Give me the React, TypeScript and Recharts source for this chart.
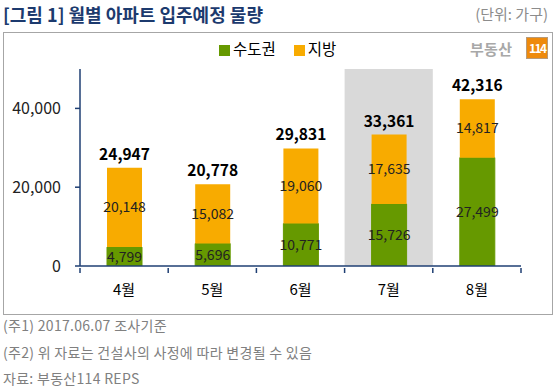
import React from 'react';
import {
    BarChart,
    Bar,
    XAxis,
    YAxis,
    Legend,
    LabelList,
    ReferenceArea
} from 'recharts';

// monthly scheduled move-in volume (households)
const months = ['4월', '5월', '6월', '7월', '8월'];
const capitalArea = [4799, 5696, 10771, 15726, 27499];
const regional = [20148, 15082, 19060, 17635, 14817];
const totals = [24947, 20778, 29831, 33361, 42316];
const yTicks = [0, 20000, 40000];
const highlightMonth = '7월';

const NAVY = '#1f3f73';
const GREEN = '#669900';
const ORANGE = '#f8ab00';
const FONT = '"Noto Sans CJK KR", "Noto Sans", sans-serif';

const data = months.map((m, i) => ({
    month: m,
    capital: capitalArea[i],
    regional: regional[i],
    total: totals[i]
}));

const fmt = (v: number) => v.toLocaleString('en-US');

const footnotes = [
    '(주1) 2017.06.07 조사기준',
    '(주2) 위 자료는 건설사의 사정에 따라 변경될 수 있음',
    '자료: 부동산114 REPS'
];

// month label + tick marks on the band edges (not the centre)
const MonthTick = (props: any) => {
    const { x, y, payload, index } = props;
    const half = payload.offset || 0;
    const last = index === months.length - 1;
    return (
        <g>
            <line x1={x - half} x2={x - half} y1={y} y2={y + 5} stroke={NAVY} strokeWidth={1.5} />
            {last && <line x1={x + half} x2={x + half} y1={y} y2={y + 5} stroke={NAVY} strokeWidth={1.5} />}
            <text x={x} y={y + 27} textAnchor="middle" fontSize={15} fill="#000">{payload.value}</text>
        </g>
    );
};

export default function App() {
    return (
        <div style={{ position: 'absolute', left: 0, top: 0, width: 555, height: 389, background: '#fff', fontFamily: FONT }}>
            {/* title row */}
            <div style={{ position: 'absolute', left: 3, top: 1, fontSize: 18, fontWeight: 700, color: '#1c3a6e', whiteSpace: 'nowrap' }}>
                [그림 1] 월별 아파트 입주예정 물량
            </div>
            <div style={{ position: 'absolute', right: 7, top: 3, fontSize: 15, color: '#8c8c8c', whiteSpace: 'nowrap' }}>
                (단위: 가구)
            </div>

            {/* frame */}
            <div style={{ position: 'absolute', left: 3, top: 32, width: 548, height: 281, border: '1px solid #a6a6a6' }} />

            {/* logo */}
            <div style={{ position: 'absolute', left: 470, top: 37, display: 'flex', alignItems: 'center', zIndex: 2 }}>
                <span style={{ fontSize: 15, fontWeight: 700, color: '#a8a8a8', letterSpacing: 0.3 }}>부동산</span>
                <span style={{
                    marginLeft: 14, width: 20, height: 20, background: '#ee8a0c', border: '1px solid #b89a78',
                    color: '#fff', fontSize: 12, fontWeight: 700, lineHeight: '20px', textAlign: 'center', letterSpacing: -1.5
                }}>114</span>
            </div>

            <div style={{ position: 'absolute', left: 0, top: 0 }}>
                <BarChart
                    width={555}
                    height={389}
                    data={data}
                    margin={{ top: 69, right: 34, bottom: 83, left: 8 }}
                >
                    <XAxis
                        dataKey="month"
                        height={40}
                        axisLine={{ stroke: NAVY, strokeWidth: 1.5 }}
                        tickLine={false}
                        tickSize={0}
                        tick={<MonthTick />}
                    />
                    <YAxis
                        width={72}
                        domain={[0, 50000]}
                        ticks={yTicks}
                        allowDataOverflow
                        axisLine={{ stroke: NAVY, strokeWidth: 1.5 }}
                        tickLine={{ stroke: NAVY, strokeWidth: 1.5 }}
                        tickSize={5}
                        tickMargin={14}
                        tick={{ fontSize: 16, fill: '#222' }}
                        tickFormatter={fmt}
                    />
                    <ReferenceArea
                        x1={highlightMonth}
                        x2={highlightMonth}
                        y1={0}
                        y2={50000}
                        fill="#d9d9d9"
                        fillOpacity={1}
                        stroke="none"
                    />
                    <Legend
                        layout="horizontal"
                        verticalAlign="middle"
                        iconType="square"
                        iconSize={11}
                        wrapperStyle={{ top: 39, left: 219, width: 'auto', fontSize: 15.5, lineHeight: '18px' }}
                        formatter={(v, _e, i) => (
                            <span style={{ color: '#000', marginLeft: -1, marginRight: i === 0 ? 8 : 0 }}>{v}</span>
                        )}
                    />
                    <Bar
                        dataKey="capital"
                        name="수도권"
                        stackId="s"
                        fill={GREEN}
                        stroke={GREEN}
                        strokeWidth={1}
                        barSize={35}
                        isAnimationActive={false}
                    >
                        <LabelList dataKey="capital" position="center" formatter={fmt} fill="#222" fontSize={14} />
                    </Bar>
                    <Bar
                        dataKey="regional"
                        name="지방"
                        stackId="s"
                        fill={ORANGE}
                        barSize={35}
                        isAnimationActive={false}
                    >
                        <LabelList dataKey="regional" position="center" formatter={fmt} fill="#222" fontSize={14} />
                        <LabelList dataKey="total" position="top" offset={8} formatter={fmt} fill="#000" fontSize={15.5} fontWeight={700} />
                    </Bar>
                </BarChart>
            </div>

            {/* notes */}
            {footnotes.map((t, i) => (
                <div key={i} style={{ position: 'absolute', left: 3, top: 315 + i * 26.5, fontSize: 14, color: '#808080', whiteSpace: 'nowrap', letterSpacing: 0.3 }}>
                    {t}
                </div>
            ))}
        </div>
    );
}
